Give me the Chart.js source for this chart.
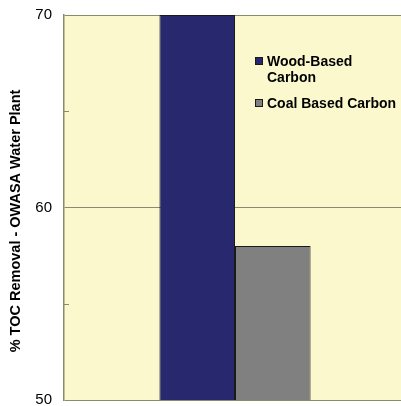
<!DOCTYPE html>
<html>
<head>
<meta charset="utf-8">
<script src="https://cdn.jsdelivr.net/npm/chart.js@4/dist/chart.umd.min.js"></script>
<style>
  html, body { margin: 0; padding: 0; background: #ffffff; overflow: hidden; }
  #wrap { width: 406px; height: 421px; margin-top: -6px; }
</style>
</head>
<body>
<div id="wrap"><canvas id="c" width="406" height="427"></canvas></div>
<script>
// Chart data
const categories = [''];
const seriesNames = ['Wood-Based Carbon', 'Coal Based Carbon'];
const legendLines = [['Wood-Based', 'Carbon'], ['Coal Based Carbon']];
const woodBased = [70];
const coalBased = [58];
const yTicks = [50, 60, 70];
const minorTicks = [55, 65];
const axisTitle = '% TOC Removal - OWASA Water Plant';

const FONT = '"Liberation Sans", Arial, Helvetica, sans-serif';
const GRID = '#8A8A6C';
const SHIFT = 6; // canvas sits 6px above the page top

// Pale yellow plot background
const plotBackground = {
  id: 'plotBackground',
  beforeDraw(chart) {
    const { ctx, chartArea: a } = chart;
    ctx.save();
    ctx.fillStyle = '#FCF8CE';
    ctx.fillRect(a.left, a.top, a.right - a.left, a.bottom - a.top);
    ctx.restore();
  }
};

// Inside minor tick marks, rotated axis title and boxed legend
const extras = {
  id: 'extras',
  afterDraw(chart) {
    const { ctx, chartArea: a } = chart;
    const y = chart.scales.y;
    ctx.save();
    ctx.strokeStyle = GRID;
    ctx.lineWidth = 1;
    minorTicks.forEach(v => {
      const py = Math.round(y.getPixelForValue(v)) + 0.5;
      ctx.beginPath();
      ctx.moveTo(a.left, py);
      ctx.lineTo(a.left + 5, py);
      ctx.stroke();
    });

    // axis title
    ctx.fillStyle = '#000';
    ctx.font = 'bold 14.5px ' + FONT;
    ctx.textAlign = 'center';
    ctx.textBaseline = 'middle';
    ctx.translate(16, 221 + SHIFT);
    ctx.rotate(-Math.PI / 2);
    ctx.fillText(axisTitle, 0, 0);
    ctx.restore();

    // legend
    ctx.save();
    ctx.font = 'bold 14px ' + FONT;
    ctx.textAlign = 'left';
    ctx.textBaseline = 'alphabetic';
    const boxX = 255, textX = 267;
    const baselines = [[66, 82], [108]];
    chart.data.datasets.forEach((ds, i) => {
      const lines = legendLines[i];
      const b0 = baselines[i][0] + SHIFT;
      ctx.fillStyle = ds.backgroundColor;
      ctx.fillRect(boxX, b0 - 9, 7, 7);
      ctx.strokeStyle = '#1A1A1A';
      ctx.lineWidth = 1;
      ctx.strokeRect(boxX + 0.5, b0 - 8.5, 7, 7);
      ctx.fillStyle = '#000';
      lines.forEach((t, k) => ctx.fillText(t, textX, baselines[i][k] + SHIFT));
    });
    ctx.restore();
  }
};

new Chart(document.getElementById('c'), {
  type: 'bar',
  data: {
    labels: categories,
    datasets: [
      { label: seriesNames[0], data: woodBased, backgroundColor: '#27286E', borderColor: '#1A1A1A', borderWidth: 1 },
      { label: seriesNames[1], data: coalBased, backgroundColor: '#808080', borderColor: '#1A1A1A', borderWidth: 1 }
    ]
  },
  options: {
    responsive: false,
    animation: false,
    devicePixelRatio: 1,
    layout: { padding: { top: 8, right: 0, bottom: 0, left: 0 } },
    datasets: { bar: { categoryPercentage: 0.442, barPercentage: 1.0 } },
    plugins: { legend: { display: false }, tooltip: { enabled: false } },
    scales: {
      x: { display: false },
      y: {
        min: 50,
        max: 70,
        afterBuildTicks(scale) { scale.ticks = yTicks.map(v => ({ value: v })); },
        afterFit(scale) { scale.width = 64; },
        grid: { color: GRID, lineWidth: 1, drawTicks: false },
        border: { display: true, color: GRID, width: 1.5 },
        ticks: { color: '#000', font: { family: FONT, size: 15 }, padding: 12 }
      }
    }
  },
  plugins: [plotBackground, extras]
});
</script>
</body>
</html>
